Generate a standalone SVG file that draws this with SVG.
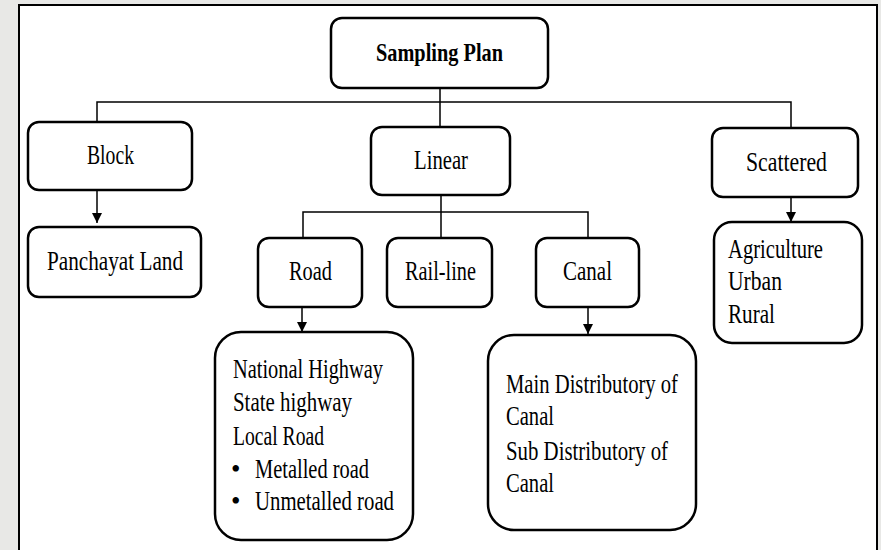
<svg xmlns="http://www.w3.org/2000/svg" width="881" height="550" viewBox="0 0 881 550">
<style>
.box{fill:#fff;stroke:#000;stroke-width:2.5}
.t{font-family:"Liberation Serif","Times New Roman",serif;font-size:27px;fill:#000}
.b{font-weight:bold;font-size:25px}
.ln{fill:none;stroke:#000;stroke-width:1.5}
</style>
<defs>
<marker id="ar" viewBox="0 0 10 10" refX="10" refY="5" markerWidth="10" markerHeight="10" markerUnits="userSpaceOnUse" orient="auto">
<path d="M0,0 L10,5 L0,10 z" fill="#000"/>
</marker>
</defs>
<rect x="0" y="0" width="881" height="550" fill="#e8e8e6"/>
<rect x="19" y="5" width="858" height="560" fill="#fff" stroke="#000" stroke-width="2"/>
<g id="connectors">
<path class="ln" d="M440,88 V127 M97,122 V102 H791 V128"/>
<path class="ln" d="M97,190 V223" marker-end="url(#ar)"/>
<path class="ln" d="M441,195 V238 M303,238 V212 H588 V238"/>
<path class="ln" d="M302,307 V332" marker-end="url(#ar)"/>
<path class="ln" d="M588,307 V334" marker-end="url(#ar)"/>
<path class="ln" d="M791,197 V222" marker-end="url(#ar)"/>
</g>
<g id="sampling-plan">
<rect class="box" x="331" y="18" width="217" height="70" rx="11"/>
<text class="t b" x="376" y="61" textLength="127" lengthAdjust="spacingAndGlyphs">Sampling Plan</text>
</g>
<g id="block">
<rect class="box" x="28" y="122" width="164" height="68" rx="11"/>
<text class="t" x="87" y="164" textLength="47" lengthAdjust="spacingAndGlyphs">Block</text>
</g>
<g id="linear">
<rect class="box" x="371" y="127" width="139" height="68" rx="11"/>
<text class="t" x="414" y="169" textLength="54" lengthAdjust="spacingAndGlyphs">Linear</text>
</g>
<g id="scattered">
<rect class="box" x="712" y="128" width="146" height="69" rx="11"/>
<text class="t" x="746" y="171" textLength="81" lengthAdjust="spacingAndGlyphs">Scattered</text>
</g>
<g id="panchayat-land">
<rect class="box" x="28" y="227" width="173" height="70" rx="11"/>
<text class="t" x="47" y="270" textLength="136" lengthAdjust="spacingAndGlyphs">Panchayat Land</text>
</g>
<g id="road">
<rect class="box" x="258" y="238" width="104" height="69" rx="11"/>
<text class="t" x="289" y="280" textLength="43" lengthAdjust="spacingAndGlyphs">Road</text>
</g>
<g id="rail-line">
<rect class="box" x="387" y="238" width="105" height="69" rx="11"/>
<text class="t" x="405" y="280" textLength="71" lengthAdjust="spacingAndGlyphs">Rail-line</text>
</g>
<g id="canal">
<rect class="box" x="536" y="238" width="103" height="69" rx="11"/>
<text class="t" x="563" y="280" textLength="49" lengthAdjust="spacingAndGlyphs">Canal</text>
</g>
<g id="scattered-types">
<rect class="box" x="714" y="222" width="148" height="121" rx="18"/>
<text class="t" x="728" y="258" textLength="95" lengthAdjust="spacingAndGlyphs">Agriculture</text>
<text class="t" x="728" y="290" textLength="54" lengthAdjust="spacingAndGlyphs">Urban</text>
<text class="t" x="728" y="323" textLength="47" lengthAdjust="spacingAndGlyphs">Rural</text>
</g>
<g id="road-types">
<rect class="box" x="215" y="332" width="198" height="208" rx="26"/>
<text class="t" x="233" y="378" textLength="150" lengthAdjust="spacingAndGlyphs">National Highway</text>
<text class="t" x="233" y="411" textLength="119" lengthAdjust="spacingAndGlyphs">State highway</text>
<text class="t" x="233" y="445" textLength="91" lengthAdjust="spacingAndGlyphs">Local Road</text>
<text class="t" x="231" y="478">•</text>
<text class="t" x="255" y="478" textLength="114" lengthAdjust="spacingAndGlyphs">Metalled road</text>
<text class="t" x="231" y="510">•</text>
<text class="t" x="255" y="510" textLength="139" lengthAdjust="spacingAndGlyphs">Unmetalled road</text>
</g>
<g id="canal-types">
<rect class="box" x="488" y="335" width="208" height="195" rx="26"/>
<text class="t" x="506" y="393" textLength="172" lengthAdjust="spacingAndGlyphs">Main Distributory of</text>
<text class="t" x="506" y="425" textLength="48" lengthAdjust="spacingAndGlyphs">Canal</text>
<text class="t" x="506" y="460" textLength="162" lengthAdjust="spacingAndGlyphs">Sub Distributory of</text>
<text class="t" x="506" y="492" textLength="48" lengthAdjust="spacingAndGlyphs">Canal</text>
</g>
</svg>
